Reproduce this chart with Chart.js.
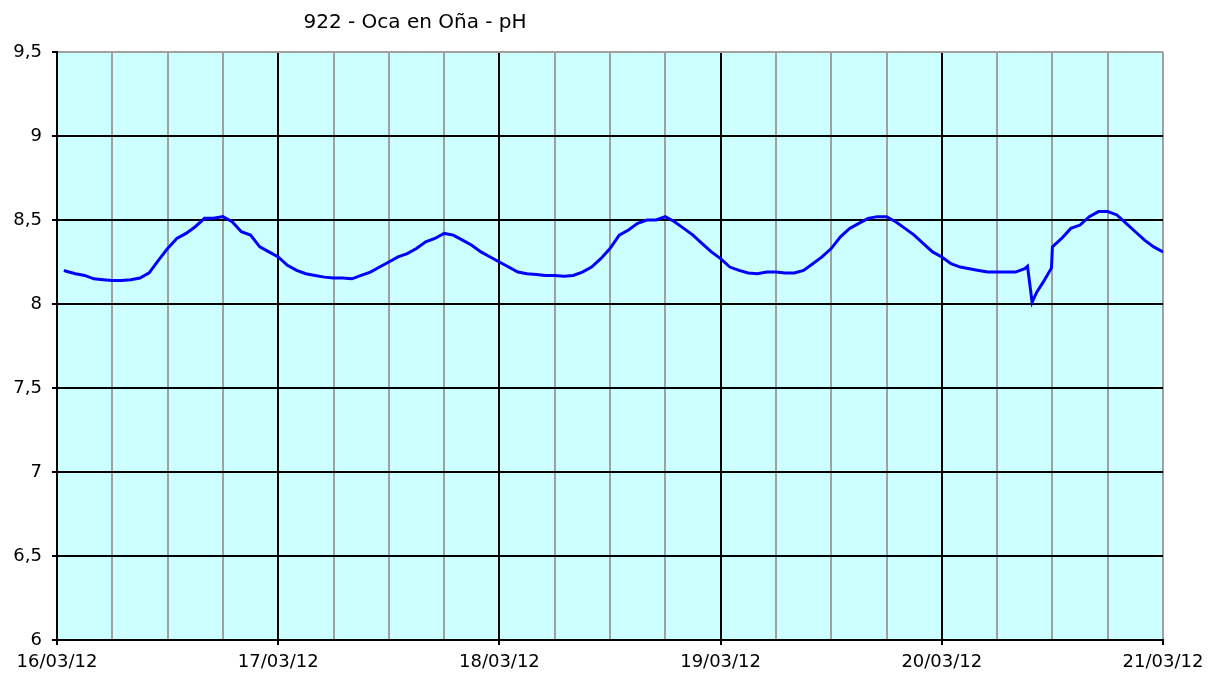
<!DOCTYPE html>
<html>
<head>
<meta charset="utf-8">
<script src="https://cdn.jsdelivr.net/npm/chart.js@4.4.0/dist/chart.umd.min.js"></script>
<style>
    html, body { margin: 0; padding: 0; background: #fff; }
    #wrap { width: 1221px; height: 680px; }
</style>
</head>
<body>
<div id="wrap"><canvas id="phChart" width="1221" height="680"></canvas></div>
<script>
// Chart data: hours since 16/03/12 00:00 and pH readings
const chartTitle = '922 - Oca en Oña - pH';
const dayLabels = ['16/03/12', '17/03/12', '18/03/12', '19/03/12', '20/03/12', '21/03/12'];
const yTicks = [6, 6.5, 7, 7.5, 8, 8.5, 9, 9.5];

const hours = [
    0.75, 1, 2, 3, 4, 5, 6, 7, 8, 9, 10, 11, 12, 13, 14, 15, 16, 17, 18, 19, 20, 21, 22, 23,
    24, 25, 26, 27, 28, 29, 30, 31, 32, 33, 34, 35, 36, 37, 38, 39, 40, 41, 42, 43, 44, 45, 46, 47,
    48, 49, 50, 51, 52, 53, 54, 55, 56, 57, 58, 59, 60, 61, 62, 63, 64, 65, 66, 67, 68, 69, 70, 71,
    72, 73, 74, 75, 76, 77, 78, 79, 80, 81, 82, 83, 84, 85, 86, 87, 88, 89, 90, 91, 92, 93, 94, 95,
    96, 97, 98, 99, 100, 101, 102, 103, 104, 105, 105.3, 105.8, 106.3, 107, 107.9, 108,
    109, 110, 111, 112, 113, 114, 115, 116, 117, 118, 119, 120
];
const phValues = [
    8.20, 8.195, 8.18, 8.17, 8.15, 8.145, 8.14, 8.14, 8.145, 8.155, 8.185, 8.26, 8.33, 8.39, 8.42, 8.46, 8.51, 8.51, 8.52, 8.49, 8.43, 8.41, 8.34, 8.31,
    8.28, 8.23, 8.20, 8.18, 8.17, 8.16, 8.155, 8.155, 8.15, 8.17, 8.19, 8.22, 8.25, 8.28, 8.30, 8.33, 8.37, 8.39, 8.42, 8.41, 8.38, 8.35, 8.31, 8.28,
    8.25, 8.22, 8.19, 8.18, 8.175, 8.17, 8.17, 8.165, 8.17, 8.19, 8.22, 8.27, 8.33, 8.41, 8.44, 8.48, 8.50, 8.50, 8.52, 8.49, 8.45, 8.41, 8.36, 8.31,
    8.27, 8.22, 8.20, 8.185, 8.18, 8.19, 8.19, 8.185, 8.185, 8.20, 8.24, 8.28, 8.33, 8.40, 8.45, 8.48, 8.51, 8.52, 8.52, 8.49, 8.45, 8.41, 8.36, 8.31,
    8.28, 8.24, 8.22, 8.21, 8.20, 8.19, 8.19, 8.19, 8.19, 8.21, 8.225, 8.01, 8.07, 8.13, 8.215, 8.34,
    8.39, 8.45, 8.47, 8.52, 8.55, 8.55, 8.53, 8.48, 8.43, 8.38, 8.34, 8.31
];

const FONT = 'DejaVu Sans';
const GRAY = '#a0a0a0';

// Plot area background + title
const backdrop = {
    id: 'backdrop',
    beforeDraw(chart) {
        const { ctx, chartArea: a } = chart;
        ctx.save();
        ctx.fillStyle = '#ccffff';
        ctx.fillRect(a.left, a.top, a.right - a.left, a.bottom - a.top);
        ctx.restore();
    },
    afterDraw(chart) {
        const ctx = chart.ctx;
        ctx.save();
        ctx.fillStyle = '#000';
        ctx.font = '20px "' + FONT + '"';
        ctx.textAlign = 'center';
        ctx.textBaseline = 'alphabetic';
        ctx.fillText(chartTitle, 415, 28);
        ctx.restore();
    }
};

const points = hours.map((h, i) => ({ x: h, y: phValues[i] }));

new Chart(document.getElementById('phChart'), {
    type: 'line',
    data: {
        datasets: [{
            data: points,
            borderColor: '#0000ff',
            borderWidth: 3,
            pointRadius: 0,
            tension: 0,
            fill: false
        }]
    },
    options: {
        responsive: false,
        animation: false,
        layout: { padding: { top: 52, right: 58, left: 0, bottom: 0 } },
        plugins: {
            legend: { display: false },
            tooltip: { enabled: false }
        },
        scales: {
            x: {
                type: 'linear',
                min: 0,
                max: 120,
                afterFit: (s) => { s.height = 40; },
                afterBuildTicks: (s) => {
                    s.ticks = [];
                    for (let h = 0; h <= 120; h += 6) s.ticks.push({ value: h });
                },
                border: { color: '#000', width: 2 },
                grid: {
                    color: (c) => (c.tick.value % 24 === 0 && c.tick.value !== 120) ? '#000' : GRAY,
                    tickColor: (c) => c.tick.value % 24 === 0 ? '#000' : 'rgba(0,0,0,0)',
                    tickLength: 5,
                    lineWidth: 2
                },
                ticks: {
                    autoSkip: false,
                    maxRotation: 0,
                    padding: 7,
                    color: '#000',
                    font: { family: FONT, size: 18 },
                    callback: (v) => v % 24 === 0 ? dayLabels[v / 24] : ''
                }
            },
            y: {
                min: 6,
                max: 9.5,
                afterFit: (s) => { s.width = 57; },
                afterBuildTicks: (s) => { s.ticks = yTicks.map(v => ({ value: v })); },
                border: { color: '#000', width: 2 },
                grid: {
                    color: (c) => c.tick.value === 9.5 ? GRAY : '#000',
                    tickColor: '#000',
                    tickLength: 5,
                    lineWidth: 2
                },
                ticks: {
                    padding: 10,
                    color: '#000',
                    font: { family: FONT, size: 18 },
                    callback: (v) => String(v).replace('.', ',')
                }
            }
        }
    },
    plugins: [backdrop]
});
</script>
</body>
</html>
